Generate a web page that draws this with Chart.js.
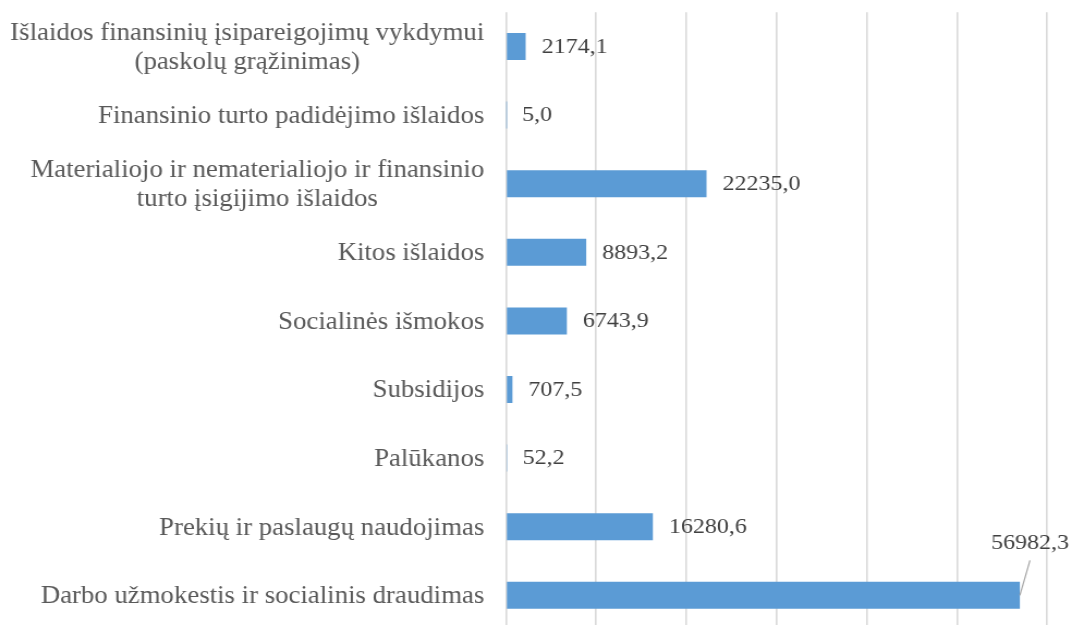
<!DOCTYPE html>
<html>
<head>
<meta charset="utf-8">
<script src="https://cdn.jsdelivr.net/npm/chart.js@4/dist/chart.umd.min.js"></script>
<style>
  html, body { margin: 0; padding: 0; background: #ffffff; overflow: hidden; }
</style>
</head>
<body>
<canvas id="c" width="984" height="632" style="display:block;width:1072px;height:632px;"></canvas>
<script>
const categories = [
  ["Išlaidos finansinių įsipareigojimų vykdymui", "(paskolų grąžinimas)"],
  ["Finansinio turto padidėjimo išlaidos"],
  ["Materialiojo ir nematerialiojo ir finansinio", "turto įsigijimo išlaidos"],
  ["Kitos išlaidos"],
  ["Socialinės išmokos"],
  ["Subsidijos"],
  ["Palūkanos"],
  ["Prekių ir paslaugų naudojimas"],
  ["Darbo užmokestis ir socialinis draudimas"]
];
const values = [2174.1, 5.0, 22235.0, 8893.2, 6743.9, 707.5, 52.2, 16280.6, 56982.3];
const axisMin = 0;
const axisMax = 60000;
const axisStep = 10000;

const FONT = '"Liberation Serif", "Times New Roman", serif';

const fmt = v => v.toFixed(1).replace('.', ',');

const labelPlugin = {
  id: 'labels',
  afterDatasetsDraw(chart) {
    const ctx = chart.ctx;
    const yScale = chart.scales.y;
    const area = chart.chartArea;
    ctx.save();
    ctx.font = '24.6px ' + FONT;
    ctx.fillStyle = '#595959';
    ctx.textBaseline = 'middle';
    ctx.textAlign = 'center';
    const right = area.left - 20;
    const lh = 28.5;
    categories.forEach((lines, i) => {
      const cy = yScale.getPixelForValue(i) + 1.5;
      const widest = Math.max(...lines.map(l => ctx.measureText(l).width));
      const cx = right - widest / 2;
      lines.forEach((l, j) => {
        ctx.fillText(l, cx, cy + (j - (lines.length - 1) / 2) * lh);
      });
    });
    ctx.font = '22px ' + FONT;
    ctx.fillStyle = '#404040';
    const meta = chart.getDatasetMeta(0);
    meta.data.forEach((bar, i) => {
      const txt = fmt(values[i]);
      const w = ctx.measureText(txt).width;
      const x = bar.x + 14.7;
      if (x + w > chart.width - 2) {
        const lx = bar.x + 9.3, ly = bar.y - 35;
        ctx.strokeStyle = '#a6a6a6';
        ctx.lineWidth = 1.2;
        ctx.beginPath();
        ctx.moveTo(bar.x, bar.y);
        ctx.lineTo(lx, ly);
        ctx.stroke();
        ctx.textAlign = 'center';
        ctx.fillText(txt, lx, ly - 17.5);
      } else {
        ctx.textAlign = 'left';
        ctx.fillText(txt, x, bar.y + 0.5);
      }
    });
    ctx.restore();
  }
};

new Chart(document.getElementById('c'), {
  type: 'bar',
  data: {
    labels: categories,
    datasets: [{
      data: values,
      backgroundColor: '#5B9BD5',
      borderWidth: 0,
      categoryPercentage: 1,
      barPercentage: 0.394
    }]
  },
  options: {
    indexAxis: 'y',
    responsive: false,
    animation: false,
    devicePixelRatio: 1,
    layout: { padding: { left: 464.5, right: 22.9, top: 12.2, bottom: 2.4 } },
    plugins: { legend: { display: false }, tooltip: { enabled: false } },
    scales: {
      x: {
        min: axisMin, max: axisMax,
        ticks: { display: false, stepSize: axisStep },
        grid: { color: '#d9d9d9', lineWidth: 1.6, drawTicks: false },
        border: { display: false },
        afterFit: s => { s.height = 0; }
      },
      y: { display: false }
    }
  },
  plugins: [labelPlugin]
});
</script>
</body>
</html>
